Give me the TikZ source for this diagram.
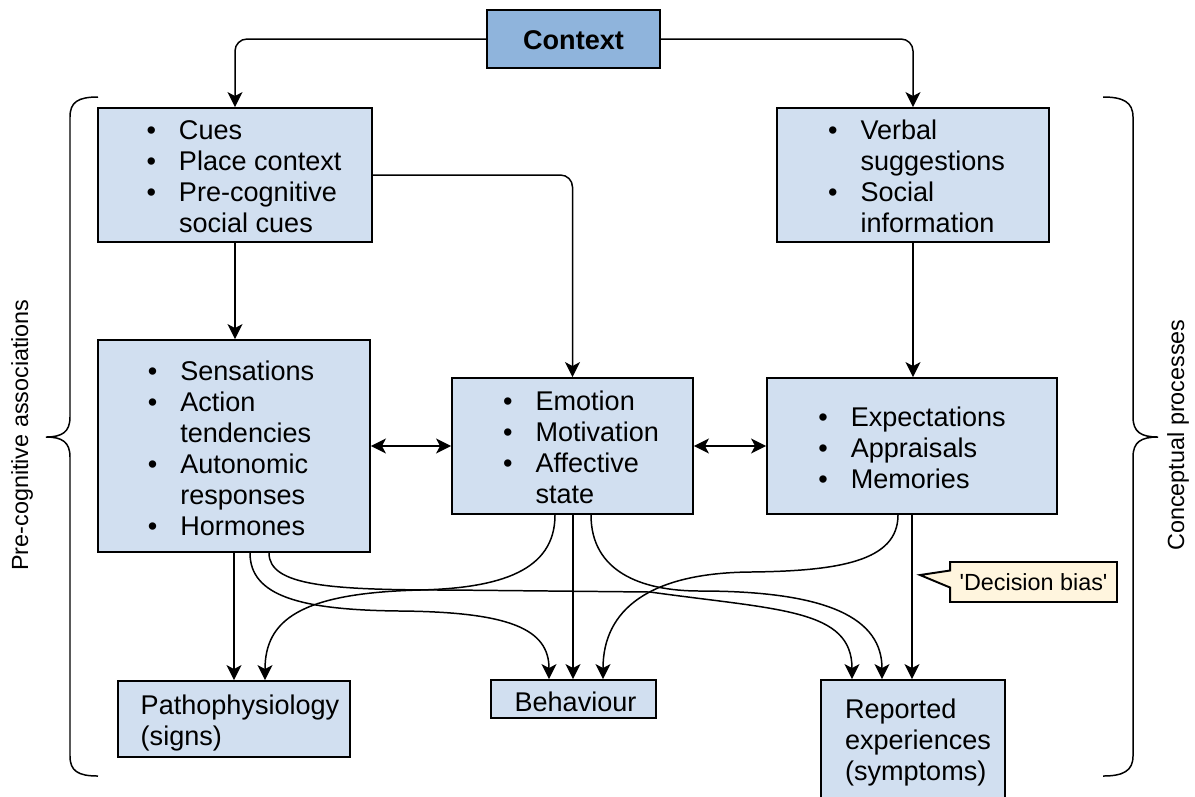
\documentclass[tikz,border=0pt]{standalone}
\usepackage{fontspec}
\setmainfont{Liberation Sans}
\usetikzlibrary{arrows.meta,calc,shapes.callouts}
\definecolor{boxblue}{HTML}{D1DFF0}
\definecolor{ctxblue}{HTML}{8FB4DC}
\definecolor{notecol}{HTML}{FFF5DE}
\tikzset{
  hd/.tip={Stealth[length=0.3cm,width=0.3cm,inset=0.08cm]},
  bx/.style={draw,line width=1.1pt,fill=boxblue,inner sep=0pt,font=\fontsize{15.4}{17.6}\selectfont},
  ar/.style={line width=0.85pt,-hd},
  dar/.style={line width=0.85pt,hd-hd},
  brc/.style={line width=0.85pt},
  side/.style={rotate=90,font=\fontsize{13.3}{16}\selectfont},
  note/.style={draw,line width=1.1pt,fill=notecol,rectangle callout,callout pointer width=0.34cm,font=\fontsize{13.3}{16}\selectfont}
}
\newcommand{\blist}[1]{\begin{tabular}{@{}c@{\hspace{0.85em}}l@{}}#1\end{tabular}}
\newcommand{\tlines}[1]{\begin{tabular}{@{}l@{}}#1\end{tabular}}
\newcommand{\nudge}[3]{\hspace*{#1}\raisebox{0pt}[\dimexpr\height+#2\relax][\depth]{#3}}
\newcommand{\sq}{\XeTeXglyph\XeTeXcharglyph"27\relax}

\begin{document}
\begin{tikzpicture}[x=0.02cm,y=-0.02cm]
\useasboundingbox (0,0) rectangle (1195,796);
\node[bx,fill=ctxblue,minimum width=3.46cm,minimum height=1.16cm,font=\fontsize{15.4}{17.6}\selectfont\bfseries] (ctx) at (573.5,39) {\nudge{0cm}{0.04cm}{Context}};
\node[bx,minimum width=5.48cm,minimum height=2.68cm] (tl) at (235,175) {\nudge{0.36cm}{0.2cm}{\blist{\textbullet & Cues\\ \textbullet & Place context\\ \textbullet & Pre-cognitive\\ & social cues}}};
\node[bx,minimum width=5.44cm,minimum height=2.68cm] (tr) at (913,175) {\nudge{0.14cm}{0.2cm}{\blist{\textbullet & Verbal\\ & suggestions\\ \textbullet & Social\\ & information}}};
\node[bx,minimum width=5.44cm,minimum height=4.24cm] (ml) at (234,446) {\nudge{-0.12cm}{0.24cm}{\blist{\textbullet & Sensations\\ \textbullet & Action\\ & tendencies\\ \textbullet & Autonomic\\ & responses\\ \textbullet & Hormones}}};
\node[bx,minimum width=4.82cm,minimum height=2.72cm] (mc) at (572.5,446) {\nudge{0.34cm}{0.2cm}{\blist{\textbullet & Emotion\\ \textbullet & Motivation\\ \textbullet & Affective\\ & state}}};
\node[bx,minimum width=5.8cm,minimum height=2.72cm] (mr) at (912,446) {\nudge{0cm}{0.2cm}{\blist{\textbullet & Expectations\\ \textbullet & Appraisals\\ \textbullet & Memories}}};
\node[bx,minimum width=4.64cm,minimum height=1.52cm] (pa) at (234,719) {\nudge{0.24cm}{0.2cm}{\tlines{Pathophysiology\\(signs)}}};
\node[bx,minimum width=3.3cm,minimum height=0.76cm] (be) at (573.5,699) {\nudge{0.08cm}{0.12cm}{Behaviour}};
\node[bx,minimum width=3.68cm,minimum height=2.4cm] (re) at (913,740) {\nudge{0.2cm}{0.12cm}{\tlines{Reported\\experiences\\(symptoms)}}};
\node[note,callout absolute pointer={(920,575)},minimum width=3.34cm,minimum height=0.8cm] (bias) at (1033.5,582) {\sq Decision bias\sq};

\node[side] (pcl) at (22,435) {Pre-cognitive associations};
\node[side] (cpl) at (1178,435) {Conceptual processes};
\draw[brc] (98,97) .. controls (78,97) and (70,102) .. (70,117) -- (70,417) .. controls (70,432) and (62,437) .. (46,437) .. controls (62,437) and (70,442) .. (70,457) -- (70,756) .. controls (70,771) and (78,776) .. (98,776);
\draw[brc] (1103,97) .. controls (1123,97) and (1133,102) .. (1133,117) -- (1133,417) .. controls (1133,432) and (1141,437) .. (1158,437) .. controls (1141,437) and (1133,442) .. (1133,457) -- (1133,756) .. controls (1133,771) and (1123,776) .. (1103,776);

\draw[ar,rounded corners=0.24cm] (ctx.west) -| (tl.north);
\draw[ar,rounded corners=0.24cm] (ctx.east) -| (tr.north);
\draw[ar,rounded corners=0.24cm] (tl.east) -| (mc.north);
\draw[ar] (tl.south) -- (tl.south |- ml.north);
\draw[ar] (tr.south) -- (tr.south |- mr.north);
\draw[dar] (ml.east) -- (mc.west);
\draw[dar] (mc.east) -- (mr.west);
\draw[ar] (ml.south) -- (pa.north);
\draw[ar] ([xshift=0.01cm]mc.south) -- ([xshift=0.01cm]mc.south |- be.north);
\draw[ar] (mr.south) -- (mr.south |- re.north);
\draw[ar] ($(ml.south)+(16,0)$) .. controls +(0,43) and (300,610) .. (400,611) .. controls (510,612) and +(0,-50) .. ($(be.north)+(-24.5,0)$);
\draw[ar] ($(ml.south)+(35,0)$) .. controls +(0,33) and (330,590) .. (450,590) -- (650,592) .. controls (780,610) and +(0,-70) .. ($(re.north)+(-61,0)$);
\draw[ar] ($(mc.south)+(18.5,0)$) .. controls +(0,56) and (640,591) .. (700,591) .. controls (830,591) and +(0,-60) .. ($(re.north)+(-31,0)$);
\draw[ar] ($(mc.south)+(-17.5,0)$) .. controls +(0,56) and (500,588) .. (420,590) .. controls (300,593) and +(0,-60) .. ($(pa.north)+(31,0)$);
\draw[ar] ($(mr.south)+(-14,0)$) .. controls +(0,46) and (840,571) .. (750,572) .. controls (650,573) and +(0,-70) .. ($(be.north)+(29.5,0)$);
\end{tikzpicture}
\end{document}
